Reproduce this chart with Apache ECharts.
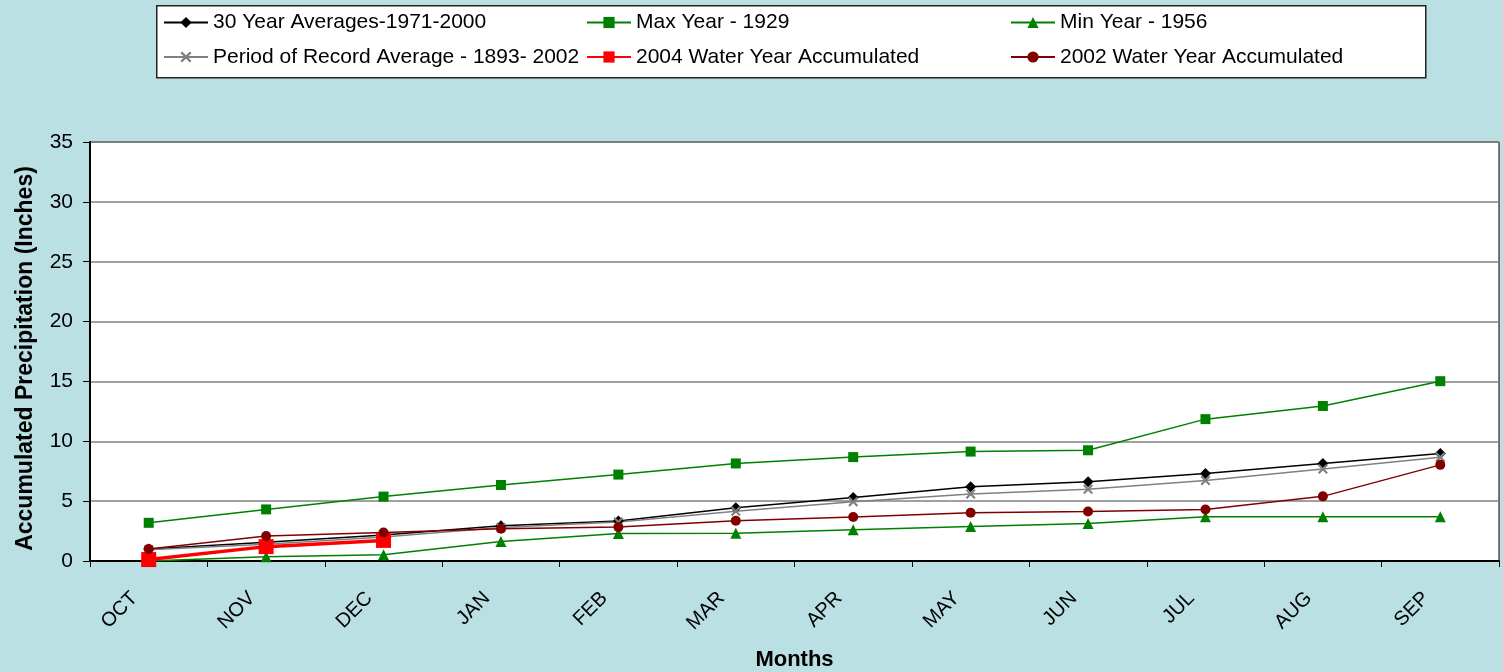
<!DOCTYPE html>
<html><head><meta charset="utf-8">
<script src="https://cdn.jsdelivr.net/npm/echarts@6/dist/echarts.min.js"></script>
<style>html,body{margin:0;padding:0;background:#BAE0E3;}#c{width:1503px;height:672px;}</style>
</head><body><div id="c"></div>
<script>
const months = ['OCT','NOV','DEC','JAN','FEB','MAR','APR','MAY','JUN','JUL','AUG','SEP'];
const avg30 = [1.0, 1.56, 2.18, 2.95, 3.35, 4.45, 5.3, 6.2, 6.62, 7.3, 8.15, 8.98];
const max1929 = [3.19, 4.31, 5.38, 6.35, 7.22, 8.15, 8.68, 9.14, 9.25, 11.85, 12.95, 15.02];
const min1956 = [0.0, 0.36, 0.53, 1.62, 2.3, 2.32, 2.6, 2.88, 3.13, 3.7, 3.7, 3.7];
const porAvg = [0.95, 1.4, 2.0, 2.8, 3.25, 4.15, 4.95, 5.6, 6.0, 6.72, 7.68, 8.66];
const wy2004 = [0.12, 1.2, 1.72];
const wy2002 = [1.0, 2.08, 2.38, 2.69, 2.83, 3.36, 3.67, 4.03, 4.14, 4.3, 5.4, 8.03];
const names = ['30 Year Averages-1971-2000','Max Year - 1929','Min Year - 1956','Period of Record Average - 1893- 2002','2004 Water Year Accumulated','2002 Water Year Accumulated'];

const FONT = '"Liberation Sans", Arial, sans-serif';
const crossPath = 'path://M1.5,0 L5,3.5 L8.5,0 L10,1.5 L6.5,5 L10,8.5 L8.5,10 L5,6.5 L1.5,10 L0,8.5 L3.5,5 L0,1.5 Z';

function ser(name, data, color, symbol, size, width) {
  return {name, type:'line', data, symbol, symbolSize:size, showSymbol:true,
    lineStyle:{color, width}, itemStyle:{color}, animation:false};
}
const legendBase = {orient:'vertical', itemWidth:44, itemHeight:14, itemGap:13.5,
  textStyle:{fontFamily:FONT, fontSize:21, lineHeight:21, color:'#000'}, padding:0};

const chart = echarts.init(document.getElementById('c'));
chart.setOption({
  backgroundColor:'#BAE0E3',
  animation:false,
  graphic:[{type:'rect', left:156, top:5, shape:{width:1269, height:72},
    style:{fill:'#fff', stroke:'#222', lineWidth:1.5}, z:0}],
  legend:[
    Object.assign({}, legendBase, {left:163, top:12, data:[names[0], names[3]]}),
    Object.assign({}, legendBase, {left:586, top:12, data:[names[1], names[4]]}),
    Object.assign({}, legendBase, {left:1010, top:12, data:[names[2], names[5]]})
  ],
  grid:{left:90, right:4, top:142, bottom:111, outerBoundsMode:'none', containLabel:false,
    show:true, borderColor:'#000', borderWidth:1, backgroundColor:'#fff'},
  xAxis:{type:'category', data:months, boundaryGap:true,
    name:'Months', nameLocation:'middle', nameGap:88,
    nameTextStyle:{fontFamily:FONT, fontSize:22, fontWeight:'bold', color:'#000'},
    axisLine:{lineStyle:{color:'#000', width:2}},
    axisTick:{show:true, inside:false, length:6, lineStyle:{color:'#000'}},
    axisLabel:{rotate:45, fontFamily:FONT, fontSize:20, color:'#000', margin:20, padding:[0,20,0,0]},
    splitLine:{show:false}},
  yAxis:{type:'value', min:0, max:35, interval:5,
    name:'Accumulated Precipitation (Inches)', nameLocation:'middle', nameGap:53,
    nameTextStyle:{fontFamily:FONT, fontSize:23, fontWeight:'bold', color:'#000', padding:[0,14,0,0]},
    axisLine:{show:true, lineStyle:{color:'#000', width:2}},
    axisTick:{show:true, length:7, lineStyle:{color:'#000'}},
    axisLabel:{fontFamily:FONT, fontSize:21, color:'#000', margin:17},
    splitLine:{show:true, lineStyle:{color:'#808080', width:1.5}}},
  series:[
    ser(names[0], avg30, '#000000', 'diamond', 11, 1.5),
    ser(names[1], max1929, '#008000', 'rect', 10, 1.5),
    ser(names[2], min1956, '#008000', 'triangle', 11, 1.5),
    ser(names[3], porAvg, '#808080', crossPath, 10, 1.5),
    ser(names[4], wy2004, '#FF0000', 'rect', 15, 3.5),
    ser(names[5], wy2002, '#800000', 'circle', 10, 1.5)
  ]
});
</script></body></html>
